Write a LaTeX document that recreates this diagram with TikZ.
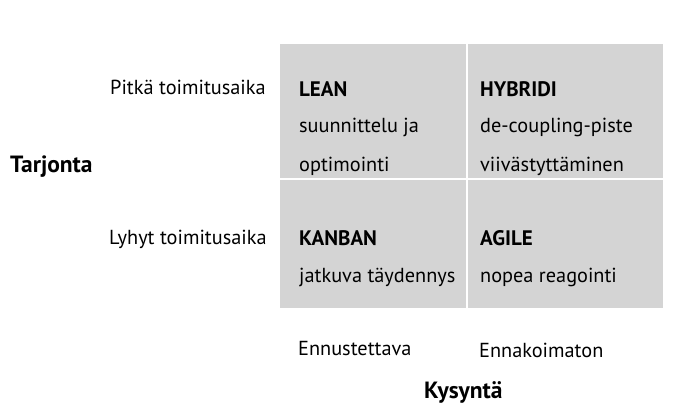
\documentclass[tikz,border=0pt]{standalone}
\usepackage{fontspec}
\setmainfont{PT Sans}
\definecolor{cellgray}{RGB}{212,212,212}
\tikzset{
  cell/.style={fill=cellgray, draw=none, inner sep=0pt, outer sep=0pt},
  txt/.style={anchor=base west, inner sep=0pt, font=\fontsize{20.3}{20.3}\selectfont},
  head/.style={txt, font=\fontsize{21}{21}\selectfont\bfseries},
  axis/.style={anchor=base west, inner sep=0pt, font=\fontsize{23.5}{23.5}\selectfont\bfseries},
}
\begin{document}
\begin{tikzpicture}[x=1pt,y=-1pt]
\useasboundingbox (0,0) rectangle (697,409);
% cells
\fill[cell] (280,44) rectangle (465.5,178.5);
\fill[cell] (467.5,44) rectangle (663,178.5);
\fill[cell] (280,180.5) rectangle (465.5,308);
\fill[cell] (467.5,180.5) rectangle (663,308);
% row labels
\node[txt] (pitka) at (110,95) {Pitkä toimitusaika};
\node[txt] (lyhyt) at (109,245) {Lyhyt toimitusaika};
\node[axis] (tarj) at (10,173) {Tarjonta};
% cell texts
\node[head] (lean) at (299,96.5) {LEAN};
\node[txt] (lean1) at (299,133) {suunnittelu ja};
\node[txt] (lean2) at (299,172) {optimointi};
\node[head] (hyb) at (480,96.5) {HYBRIDI};
\node[txt] (hyb1) at (480,133) {de-coupling-piste};
\node[txt] (hyb2) at (480,172) {viivästyttäminen};
\node[head] (kan) at (299,246) {KANBAN};
\node[txt] (kan1) at (299,283) {jatkuva täydennys};
\node[head] (agi) at (480,246) {AGILE};
\node[txt] (agi1) at (480,283) {nopea reagointi};
% column labels
\node[txt] (enn1) at (298,355) {Ennustettava};
\node[txt] (enn2) at (479,357) {Ennakoimaton};
\node[axis] (kys) at (424,398) {Kysyntä};
\end{tikzpicture}
\end{document}
